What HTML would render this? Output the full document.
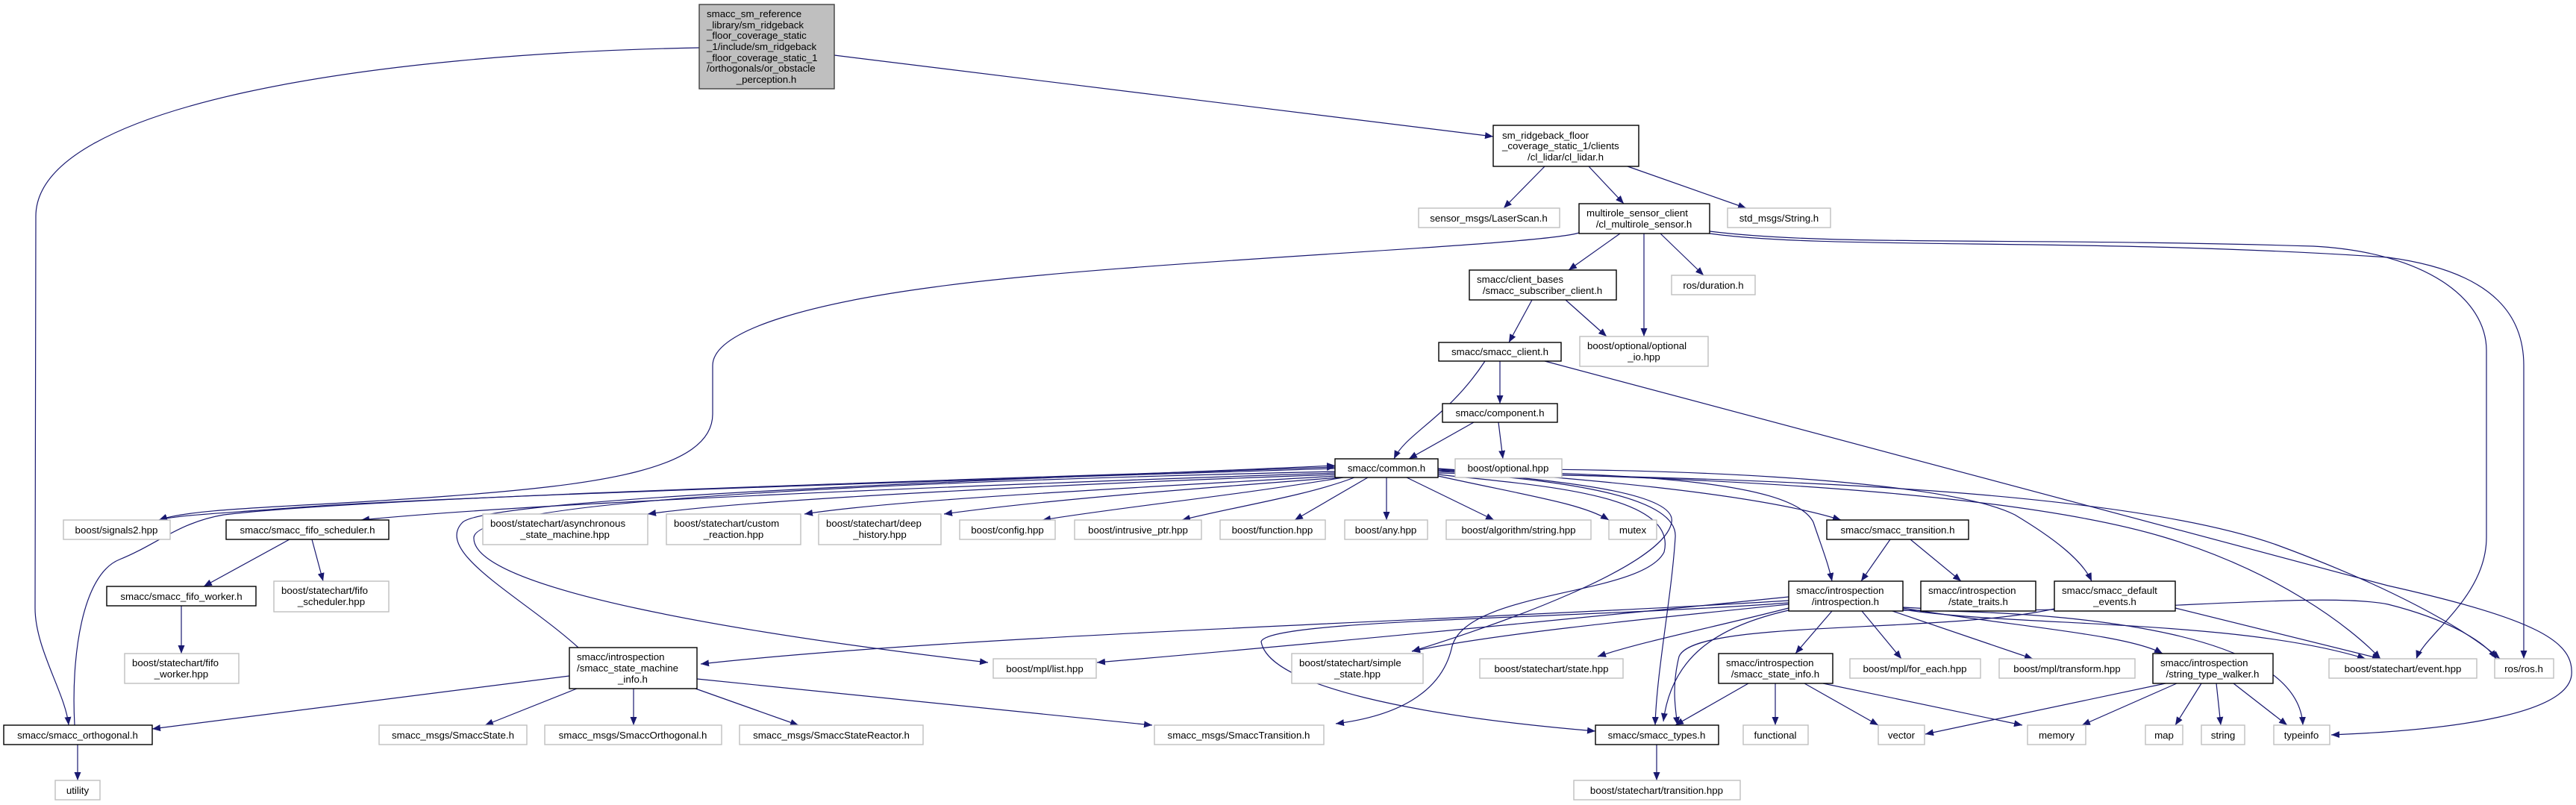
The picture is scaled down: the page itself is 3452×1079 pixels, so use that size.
<!DOCTYPE html>
<html><head><meta charset="utf-8"><style>
html,body{margin:0;padding:0;background:#fff;}
svg{display:block;}
text{font-family:"Liberation Sans",sans-serif;font-size:13.3px;fill:#000;}
.n{fill:#fff;stroke:#000;stroke-width:1.4;}
.x{fill:#fff;stroke:#bfbfbf;stroke-width:1.4;}
.r{fill:#bfbfbf;stroke:#404040;stroke-width:1.4;}
path.e{fill:none;stroke:#191970;stroke-width:1.2;marker-end:url(#a);}
</style></head><body>
<svg width="3452" height="1079" viewBox="0 0 3452 1079" xmlns="http://www.w3.org/2000/svg">
<defs><marker id="a" markerUnits="userSpaceOnUse" markerWidth="12" markerHeight="9" refX="11" refY="4.5" orient="auto"><path d="M0,0 L11,4.5 L0,9 z" fill="#191970"/></marker></defs>
<g>
<path class="e" d="M1118,74 L2001,183"/>
<path class="e" d="M937,64 C500,72 48,140 48,290 L47,815 C47,870 88,930 92,972"/>
<path class="e" d="M2070,223 L2015,279"/>
<path class="e" d="M2129,223 L2176,273"/>
<path class="e" d="M2181,223 L2340,279"/>
<path class="e" d="M2171,313 L2102,362"/>
<path class="e" d="M2203,313 L2203,451"/>
<path class="e" d="M2225,313 L2283,369"/>
<path class="e" d="M2116,312 C2060,330 1500,350 1250,385 C1100,405 955,440 955,490 L955,555 C955,630 800,650 600,665 C400,680 260,680 213,697"/>
<path class="e" d="M2053,402 L2022,459"/>
<path class="e" d="M2098,402 L2153,451"/>
<path class="e" d="M1990,484 C1940,560 1885,580 1868,615"/>
<path class="e" d="M2010,484 L2010,541"/>
<path class="e" d="M2070,484 L3200,785 C3400,830 3450,860 3446,905 C3440,955 3300,978 3124,985"/>
<path class="e" d="M1975,566 L1888,615"/>
<path class="e" d="M2008,566 L2014,615"/>
<path class="e" d="M2291,310 C2450,330 2700,318 3100,330 C3250,338 3332,400 3332,470 L3332,720 C3332,800 3250,850 3238,883"/>
<path class="e" d="M2291,313 C2450,335 2800,318 3200,345 C3350,365 3382,430 3382,490 L3382,883"/>
<path class="e" d="M1789,628 C1400,640 600,665 400,680 C300,688 240,690 213,697"/>
<path class="e" d="M1789,634 C1300,650 700,675 484,697"/>
<path class="e" d="M1789,636 C1400,650 1000,670 868,689"/>
<path class="e" d="M1792,638 C1500,655 1200,670 1078,689"/>
<path class="e" d="M1795,640 C1600,655 1400,670 1265,689"/>
<path class="e" d="M1800,640 C1650,665 1500,680 1397,697"/>
<path class="e" d="M1815,640 C1750,665 1650,680 1584,697"/>
<path class="e" d="M1833,640 L1735,697"/>
<path class="e" d="M1858,640 L1858,697"/>
<path class="e" d="M1885,640 L2002,697"/>
<path class="e" d="M1927,638 C2050,665 2120,675 2156,697"/>
<path class="e" d="M1927,628 C2100,640 2350,660 2467,697"/>
<path class="e" d="M1927,630 C2150,635 2400,640 2430,700 C2440,730 2450,755 2455,779"/>
<path class="e" d="M1927,630 C2200,625 2600,640 2700,690 C2750,720 2790,750 2803,779"/>
<path class="e" d="M1927,632 C2300,640 2700,660 2900,720 C3050,765 3150,840 3190,883"/>
<path class="e" d="M1927,634 C2400,640 2850,660 3050,730 C3200,785 3300,840 3350,883"/>
<path class="e" d="M1789,632 C1000,650 640,680 635,720 C630,790 1000,850 1324,888"/>
<path class="e" d="M1927,628 C2000,640 2250,650 2240,700 C2230,760 2000,840 1892,873"/>
<path class="e" d="M1927,636 C2050,650 2250,660 2230,740 C2200,800 1960,790 1945,870 C1930,930 1870,960 1790,970"/>
<path class="e" d="M1927,630 C2000,640 2250,650 2245,720 C2240,800 2220,900 2218,972"/>
<path class="e" d="M100,972 C95,880 110,770 160,750 C210,730 240,700 300,690 C500,665 1400,640 1789,626"/>
<path class="e" d="M775,868 C700,800 580,740 620,700 C660,665 1400,642 1789,624"/>
<path class="e" d="M388,723 L273,786"/>
<path class="e" d="M418,723 L433,779"/>
<path class="e" d="M243,812 L243,876"/>
<path class="e" d="M2533,723 L2494,779"/>
<path class="e" d="M2560,723 L2628,779"/>
<path class="e" d="M2397,805 C2000,830 1300,850 939,890"/>
<path class="e" d="M2397,800 C2200,820 1800,860 1470,888"/>
<path class="e" d="M2397,810 C2200,830 2000,850 1892,873"/>
<path class="e" d="M2397,815 C2300,840 2200,860 2141,880"/>
<path class="e" d="M2455,819 L2406,876"/>
<path class="e" d="M2495,819 L2548,883"/>
<path class="e" d="M2536,819 L2724,883"/>
<path class="e" d="M2550,815 C2700,840 2850,850 2898,876"/>
<path class="e" d="M2550,817 C2700,840 3000,830 3170,883"/>
<path class="e" d="M2550,814 C2800,830 3100,790 3200,810 C3280,830 3330,860 3345,883"/>
<path class="e" d="M2397,818 C2300,840 2240,880 2229,967"/>
<path class="e" d="M2397,808 C2100,830 1700,830 1690,860 C1700,920 1900,960 2138,980"/>
<path class="e" d="M2550,818 C2800,820 3080,850 3086,972"/>
<path class="e" d="M2915,815 L3190,883"/>
<path class="e" d="M2753,816 C2600,850 2270,830 2250,880 C2240,920 2245,950 2248,972"/>
<path class="e" d="M763,906 L204,977"/>
<path class="e" d="M773,923 L650,972"/>
<path class="e" d="M849,923 L849,972"/>
<path class="e" d="M932,923 L1070,972"/>
<path class="e" d="M934,910 L1544,972"/>
<path class="e" d="M2343,916 L2245,972"/>
<path class="e" d="M2379,916 L2379,972"/>
<path class="e" d="M2418,916 L2517,972"/>
<path class="e" d="M2443,916 L2710,972"/>
<path class="e" d="M2902,916 L2580,984"/>
<path class="e" d="M2917,916 L2790,972"/>
<path class="e" d="M2950,916 L2915,972"/>
<path class="e" d="M2970,916 L2976,972"/>
<path class="e" d="M2993,916 L3065,972"/>
<path class="e" d="M2220,998 L2220,1046"/>
<path class="e" d="M104,998 L104,1046"/>
</g>
<g>
<rect class="r" x="937" y="6" width="181" height="113"/>
<text x="947" y="23">smacc_sm_reference</text>
<text x="947" y="38">_library/sm_ridgeback</text>
<text x="947" y="52">_floor_coverage_static</text>
<text x="947" y="67">_1/include/sm_ridgeback</text>
<text x="947" y="82">_floor_coverage_static_1</text>
<text x="947" y="96">/orthogonals/or_obstacle</text>
<text x="1027" y="111" text-anchor="middle">_perception.h</text>

<rect class="n" x="2001" y="168" width="195" height="55"/>
<text x="2013" y="186">sm_ridgeback_floor</text>
<text x="2013" y="200">_coverage_static_1/clients</text>
<text x="2098" y="215" text-anchor="middle">/cl_lidar/cl_lidar.h</text>

<rect class="x" x="1901" y="279" width="189" height="26"/><text x="1995" y="297" text-anchor="middle">sensor_msgs/LaserScan.h</text>
<rect class="n" x="2116" y="273" width="175" height="40"/>
<text x="2126" y="290">multirole_sensor_client</text>
<text x="2203" y="305" text-anchor="middle">/cl_multirole_sensor.h</text>
<rect class="x" x="2315" y="279" width="138" height="26"/><text x="2384" y="297" text-anchor="middle">std_msgs/String.h</text>

<rect class="n" x="1969" y="362" width="197" height="40"/>
<text x="1979" y="379">smacc/client_bases</text>
<text x="2067" y="394" text-anchor="middle">/smacc_subscriber_client.h</text>
<rect class="x" x="2240" y="369" width="112" height="26"/><text x="2296" y="387" text-anchor="middle">ros/duration.h</text>
<rect class="x" x="2117" y="451" width="172" height="40"/>
<text x="2127" y="468">boost/optional/optional</text>
<text x="2203" y="483" text-anchor="middle">_io.hpp</text>
<rect class="n" x="1928" y="459" width="164" height="25"/><text x="2010" y="476" text-anchor="middle">smacc/smacc_client.h</text>
<rect class="n" x="1933" y="541" width="154" height="25"/><text x="2010" y="558" text-anchor="middle">smacc/component.h</text>
<rect class="n" x="1789" y="615" width="138" height="25"/><text x="1858" y="632" text-anchor="middle">smacc/common.h</text>
<rect class="x" x="1950" y="615" width="143" height="25"/><text x="2021" y="632" text-anchor="middle">boost/optional.hpp</text>

<rect class="x" x="85" y="697" width="143" height="26"/><text x="156" y="715" text-anchor="middle">boost/signals2.hpp</text>
<rect class="n" x="303" y="697" width="218" height="26"/><text x="412" y="715" text-anchor="middle">smacc/smacc_fifo_scheduler.h</text>
<rect class="x" x="647" y="689" width="221" height="41"/>
<text x="657" y="706">boost/statechart/asynchronous</text>
<text x="757" y="721" text-anchor="middle">_state_machine.hpp</text>
<rect class="x" x="893" y="689" width="180" height="41"/>
<text x="903" y="706">boost/statechart/custom</text>
<text x="983" y="721" text-anchor="middle">_reaction.hpp</text>
<rect class="x" x="1097" y="689" width="164" height="41"/>
<text x="1107" y="706">boost/statechart/deep</text>
<text x="1179" y="721" text-anchor="middle">_history.hpp</text>
<rect class="x" x="1286" y="697" width="128" height="26"/><text x="1350" y="715" text-anchor="middle">boost/config.hpp</text>
<rect class="x" x="1440" y="697" width="170" height="26"/><text x="1525" y="715" text-anchor="middle">boost/intrusive_ptr.hpp</text>
<rect class="x" x="1635" y="697" width="141" height="26"/><text x="1705" y="715" text-anchor="middle">boost/function.hpp</text>
<rect class="x" x="1802" y="697" width="111" height="26"/><text x="1857" y="715" text-anchor="middle">boost/any.hpp</text>
<rect class="x" x="1938" y="697" width="194" height="26"/><text x="2035" y="715" text-anchor="middle">boost/algorithm/string.hpp</text>
<rect class="x" x="2156" y="697" width="64" height="26"/><text x="2188" y="715" text-anchor="middle">mutex</text>
<rect class="n" x="2448" y="697" width="190" height="26"/><text x="2543" y="715" text-anchor="middle">smacc/smacc_transition.h</text>

<rect class="n" x="143" y="786" width="200" height="26"/><text x="243" y="804" text-anchor="middle">smacc/smacc_fifo_worker.h</text>
<rect class="x" x="367" y="779" width="154" height="41"/>
<text x="377" y="796">boost/statechart/fifo</text>
<text x="444" y="811" text-anchor="middle">_scheduler.hpp</text>
<rect class="n" x="2397" y="779" width="153" height="40"/>
<text x="2407" y="796">smacc/introspection</text>
<text x="2473" y="811" text-anchor="middle">/introspection.h</text>
<rect class="n" x="2574" y="779" width="154" height="40"/>
<text x="2584" y="796">smacc/introspection</text>
<text x="2651" y="811" text-anchor="middle">/state_traits.h</text>
<rect class="n" x="2753" y="779" width="162" height="40"/>
<text x="2763" y="796">smacc/smacc_default</text>
<text x="2834" y="811" text-anchor="middle">_events.h</text>

<rect class="x" x="167" y="876" width="153" height="40"/>
<text x="177" y="893">boost/statechart/fifo</text>
<text x="243" y="908" text-anchor="middle">_worker.hpp</text>
<rect class="n" x="763" y="868" width="171" height="55"/>
<text x="773" y="885">smacc/introspection</text>
<text x="773" y="900">/smacc_state_machine</text>
<text x="848" y="915" text-anchor="middle">_info.h</text>
<rect class="x" x="1331" y="883" width="138" height="26"/><text x="1400" y="901" text-anchor="middle">boost/mpl/list.hpp</text>
<rect class="x" x="1731" y="876" width="176" height="40"/>
<text x="1741" y="893">boost/statechart/simple</text>
<text x="1819" y="908" text-anchor="middle">_state.hpp</text>
<rect class="x" x="1983" y="883" width="192" height="26"/><text x="2079" y="901" text-anchor="middle">boost/statechart/state.hpp</text>
<rect class="n" x="2303" y="876" width="153" height="40"/>
<text x="2313" y="893">smacc/introspection</text>
<text x="2379" y="908" text-anchor="middle">/smacc_state_info.h</text>
<rect class="x" x="2479" y="883" width="175" height="26"/><text x="2566" y="901" text-anchor="middle">boost/mpl/for_each.hpp</text>
<rect class="x" x="2679" y="883" width="182" height="26"/><text x="2770" y="901" text-anchor="middle">boost/mpl/transform.hpp</text>
<rect class="n" x="2885" y="876" width="161" height="40"/>
<text x="2895" y="893">smacc/introspection</text>
<text x="2965" y="908" text-anchor="middle">/string_type_walker.h</text>
<rect class="x" x="3121" y="883" width="198" height="26"/><text x="3220" y="901" text-anchor="middle">boost/statechart/event.hpp</text>
<rect class="x" x="3343" y="883" width="79" height="26"/><text x="3382" y="901" text-anchor="middle">ros/ros.h</text>

<rect class="n" x="5" y="972" width="199" height="26"/><text x="104" y="990" text-anchor="middle">smacc/smacc_orthogonal.h</text>
<rect class="x" x="508" y="972" width="198" height="26"/><text x="607" y="990" text-anchor="middle">smacc_msgs/SmaccState.h</text>
<rect class="x" x="730" y="972" width="237" height="26"/><text x="848" y="990" text-anchor="middle">smacc_msgs/SmaccOrthogonal.h</text>
<rect class="x" x="991" y="972" width="246" height="26"/><text x="1114" y="990" text-anchor="middle">smacc_msgs/SmaccStateReactor.h</text>
<rect class="x" x="1547" y="972" width="227" height="26"/><text x="1660" y="990" text-anchor="middle">smacc_msgs/SmaccTransition.h</text>
<rect class="n" x="2138" y="972" width="165" height="26"/><text x="2220" y="990" text-anchor="middle">smacc/smacc_types.h</text>
<rect class="x" x="2336" y="972" width="87" height="26"/><text x="2379" y="990" text-anchor="middle">functional</text>
<rect class="x" x="2517" y="972" width="62" height="26"/><text x="2548" y="990" text-anchor="middle">vector</text>
<rect class="x" x="2717" y="972" width="78" height="26"/><text x="2756" y="990" text-anchor="middle">memory</text>
<rect class="x" x="2875" y="972" width="50" height="26"/><text x="2900" y="990" text-anchor="middle">map</text>
<rect class="x" x="2950" y="972" width="58" height="26"/><text x="2979" y="990" text-anchor="middle">string</text>
<rect class="x" x="3047" y="972" width="75" height="26"/><text x="3084" y="990" text-anchor="middle">typeinfo</text>
<rect class="x" x="74" y="1046" width="60" height="26"/><text x="104" y="1064" text-anchor="middle">utility</text>
<rect class="x" x="2109" y="1046" width="223" height="26"/><text x="2220" y="1064" text-anchor="middle">boost/statechart/transition.hpp</text>
</g>
</svg>
</body></html>
